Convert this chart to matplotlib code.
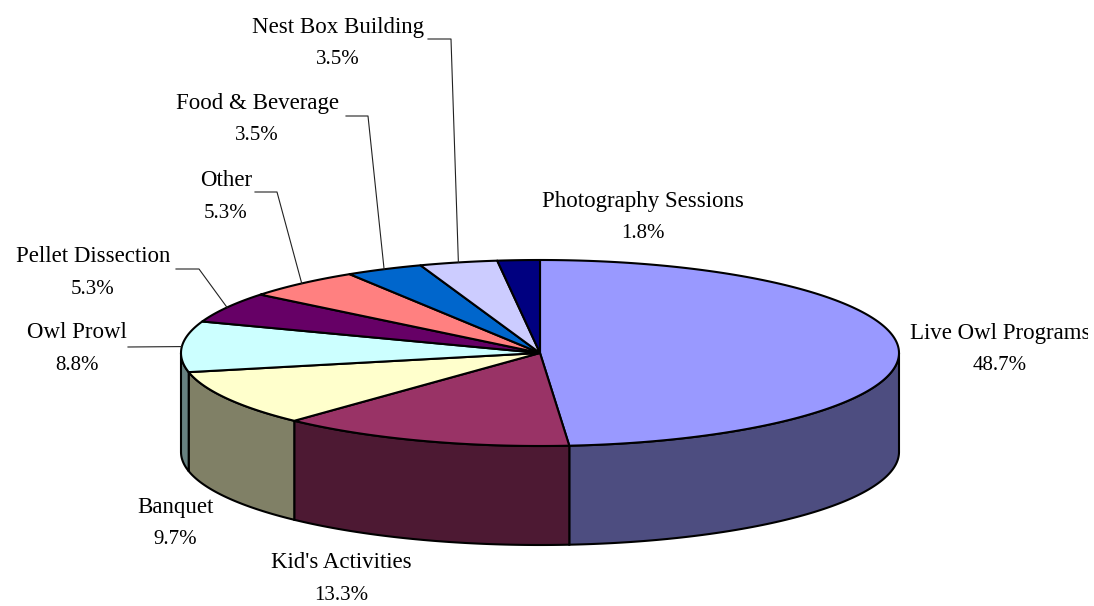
#!/usr/bin/python
# -*- coding: utf-8 -*-
# 3D looking pie of program shares, drawn as flat polygons in pixel space
import numpy as np
import matplotlib
matplotlib.use("Agg")
import matplotlib.pyplot as plt
from matplotlib.patches import Polygon, Rectangle

categories = ["Live Owl Programs", "Kid's Activities", "Banquet", "Owl Prowl",
              "Pellet Dissection", "Other", "Food & Beverage", "Nest Box Building",
              "Photography Sessions"]
shares = [48.7, 13.3, 9.7, 8.8, 5.3, 5.3, 3.5, 3.5, 1.8]
top_colors = ["#9999FF", "#993366", "#FFFFCC", "#CCFFFF", "#660066",
              "#FF8080", "#0066CC", "#CCCCFF", "#000080"]
side_colors = ["#4D4D80", "#4D1933", "#808066", "#668080"]

# label centres (x, y of the name line), in pixels
label_pos = [(1000, 333), (341, 563), (175, 507), (77, 332), (93, 256),
             (226, 180), (257, 103), (338, 27), (643, 201)]
# where a leader leaves the label, None if the label has no leader
leader_start = [None, None, None, (128, 347), (176, 269), (255, 192),
                (346, 116), (428, 39), None]
leader_elbow = [None, None, None, None, (199, 269), (277, 192),
                (368, 116), (451, 39), None]

W, H = 1094, 606
CX, CY = 540, 353
RX, RY = 359, 93
DEPTH = 99
LW = 1.5


def rim(a0, a1, dy=0):
    # angles are clockwise from 12 o'clock, degrees
    t = np.radians(np.linspace(a0, a1, max(int(abs(a1 - a0) * 2), 2)))
    return np.column_stack([CX + RX * np.sin(t), CY + dy - RY * np.cos(t)])


def main():
    plt.rcParams['font.family'] = ['Liberation Serif', 'DejaVu Serif']
    fig = plt.figure(figsize=(W / 100, H / 100), dpi=100)
    ax = fig.add_axes([0, 0, 1, 1])
    ax.set_xlim(0, W)
    ax.set_ylim(H, 0)
    ax.axis('off')

    edges = np.concatenate([[0], np.cumsum(shares)]) / 100 * 360
    edges[-1] = 360  # rounded labels add up to 99.9

    # side wall, only the part facing us (90 to 270 degrees)
    for i, col in enumerate(side_colors):
        a0, a1 = max(edges[i], 90), min(edges[i + 1], 270)
        if a1 <= a0:
            continue
        pts = np.vstack([rim(a0, a1), rim(a0, a1, DEPTH)[::-1]])
        ax.add_patch(Polygon(pts, closed=True, fc=col, ec='black', lw=LW, zorder=2))

    # top face
    for i, col in enumerate(top_colors):
        pts = np.vstack([[(CX, CY)], rim(edges[i], edges[i + 1])])
        ax.add_patch(Polygon(pts, closed=True, fc=col, ec='black', lw=LW,
                             joinstyle='round', zorder=3))

    # labels and leaders
    clip = Rectangle((0, 0), 1088, H, transform=ax.transData)
    for i, name in enumerate(categories):
        x, y = label_pos[i]
        t = ax.text(x, y, name, fontsize=16.5, ha='center', va='center', color='black', zorder=5)
        t.set_clip_path(clip)
        t.set_clip_on(True)
        ax.text(x, y + 33, "%.1f%%" % shares[i], fontsize=15, ha='center', va='center',
                color='black', zorder=5)
        if leader_start[i] is None:
            continue
        mid = np.radians((edges[i] + edges[i + 1]) / 2)
        end = (CX + RX * np.sin(mid), CY - RY * np.cos(mid))
        pts = [leader_start[i]]
        if leader_elbow[i] is not None:
            pts.append(leader_elbow[i])
        pts.append(end)
        xs, ys = zip(*pts)
        ax.plot(xs, ys, color='#222222', lw=0.8, zorder=4)

    fig.savefig("out.png", dpi=100)


if __name__ == "__main__":
    main()
